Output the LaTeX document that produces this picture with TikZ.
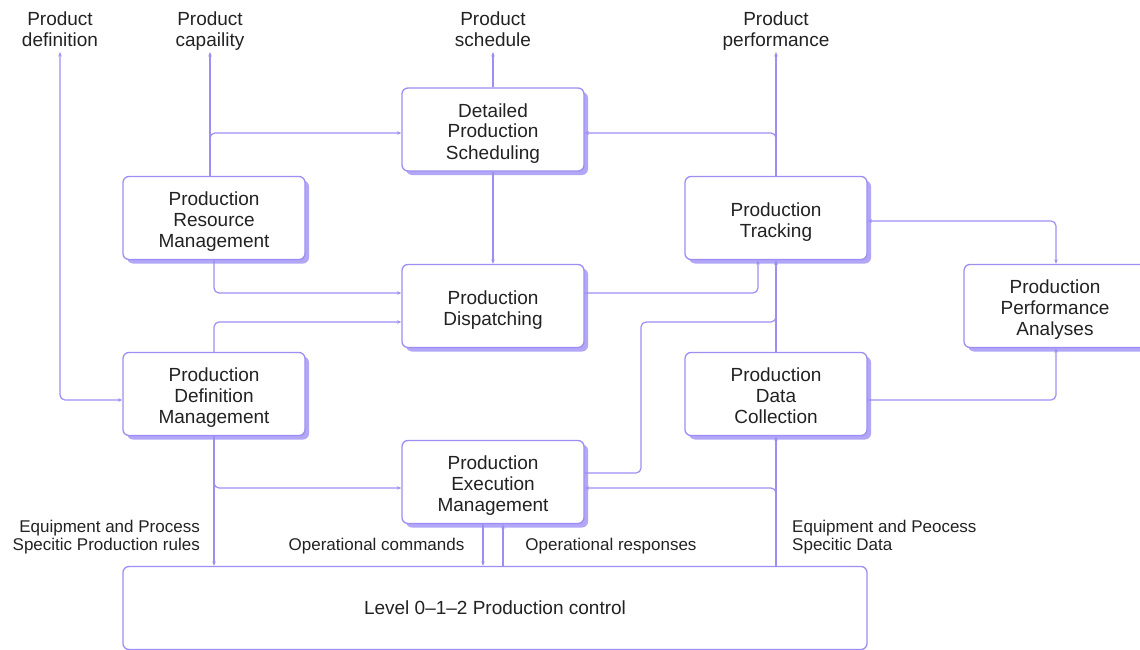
\documentclass[tikz,border=0pt]{standalone}
\usepackage{fontspec}
\setmainfont{Liberation Sans}
\usetikzlibrary{arrows.meta,shadows,calc}
\definecolor{lav}{RGB}{156,142,242}
\definecolor{lavshadow}{RGB}{178,166,247}
\definecolor{txt}{RGB}{34,34,34}
\newcommand\ts{\rule{0pt}{21pt}}
\newcommand\bs{\rule[-4pt]{0pt}{1pt}}
\tikzset{
  box/.style={rectangle, rounded corners=6pt, draw=lav, line width=1.3pt, fill=white,
    minimum width=182pt, minimum height=83pt, align=center, text=txt,
    font=\fontsize{19}{21}\selectfont,
    drop shadow={shadow xshift=4pt, shadow yshift=-4pt, fill=lavshadow, opacity=1}},
  flatbox/.style={rectangle, rounded corners=6pt, draw=lav, line width=1.3pt, fill=white,
    minimum width=744pt, minimum height=83pt, align=center, text=txt,
    font=\fontsize{19}{21}\selectfont},
  toplabel/.style={align=center, text=txt, font=\fontsize{19}{21}\selectfont, inner sep=0pt},
  smalllabel/.style={text=txt, font=\fontsize{17}{18}\selectfont, inner sep=0pt},
  conn/.style={draw=lav, line width=1.2pt, rounded corners=5pt},
  tip/.style={-{Stealth[length=4.5pt,width=3.5pt]}},
  bitip/.style={{Stealth[length=4.5pt,width=3.5pt]}-{Stealth[length=4.5pt,width=3.5pt]}}
}
\begin{document}
\begin{tikzpicture}[x=1pt,y=-1pt]
\useasboundingbox (0,0) rectangle (1140,650);

% boxes
\node[box] (DPS) at (493,129.5) {\ts Detailed\\Production\\Scheduling\bs};
\node[box] (PRM) at (214,218) {\ts Production\\Resource\\Management\bs};
\node[box] (PT) at (776,218) {\ts Production\\Tracking\bs};
\node[box] (PD) at (493,306) {\ts Production\\Dispatching\bs};
\node[box] (PPA) at (1055,306) {\ts Production\\Performance\\Analyses\bs};
\node[box] (PDM) at (214,394) {\ts Production\\Definition\\Management\bs};
\node[box] (PDC) at (776,394) {\ts Production\\Data\\Collection\bs};
\node[box] (PEM) at (493,482) {\ts Production\\Execution\\Management\bs};
\node[flatbox] (LVL) at (495,608) {Level 0–1–2 Production control};

% top labels
\node[toplabel] (Ldef) at (60,27.5) {\ts Product\\definition\bs};
\node[toplabel] (Lcap) at (210,27.5) {\ts Product\\capaility\bs};
\node[toplabel] (Lsch) at (493,27.5) {\ts Product\\schedule\bs};
\node[toplabel] (Lper) at (776,27.5) {\ts Product\\performance\bs};

\coordinate (tdef) at (60,52);
\coordinate (tcap) at (210,52);
\coordinate (tsch) at (493,52);
\coordinate (tper) at (776,52);

% bottom labels
\node[smalllabel, align=right, anchor=east] (Lrules) at (200,537) {Equipment and Process\\Specitic Production rules};
\node[smalllabel] (Lcmd) at (376.5,546) {Operational commands};
\node[smalllabel] (Lresp) at (611,546) {Operational responses};
\node[smalllabel, align=left, anchor=west] (Ldata) at (792,537) {Equipment and Peocess\\Specitic Data};

% connection points
\coordinate (PDMin) at ([yshift=-6pt]PDM.west);
\coordinate (PRMtop) at ([xshift=-4pt]PRM.north);
\coordinate (DPSinL) at ([yshift=-3.5pt]DPS.west);
\coordinate (DPSinR) at ([yshift=-3.5pt]DPS.east);
\coordinate (PDinA) at ([yshift=13pt]PD.west);
\coordinate (PDinB) at ([yshift=-16pt]PD.west);
\coordinate (PDout) at ([yshift=13pt]PD.east);
\coordinate (PTinA) at ([xshift=-18pt]PT.south);
\coordinate (PEMoutR) at ([yshift=9pt]PEM.east);
\coordinate (PEMinR) at ([yshift=-6pt]PEM.east);
\coordinate (PEMinL) at ([yshift=-6pt]PEM.west);
\coordinate (PEMcmd) at ([xshift=-10pt]PEM.south);
\coordinate (PEMresp) at ([xshift=10pt]PEM.south);
\coordinate (PTright) at ([yshift=-3pt]PT.east);
\coordinate (PDCright) at ([yshift=-6pt]PDC.east);
\coordinate (PPAtop) at ([xshift=1pt]PPA.north);
\coordinate (PPAbot) at ([xshift=1pt]PPA.south);

% connectors
\draw[conn,bitip] (tdef) -- (tdef |- PDMin) -- (PDMin);
\draw[conn,tip] (PRMtop) -- (tcap);
\draw[conn,tip] (PRMtop) |- (DPSinL);
\draw[conn,tip] (DPS.north) -- (tsch);
\draw[conn,tip] (PT.north) -- (tper);
\draw[conn,tip] (PT.north) |- (DPSinR);
\draw[conn,tip] (DPS.south) -- (PD.north);
\draw[conn,tip] (PRM.south) |- (PDinA);
\draw[conn,tip] (PDM.north) |- (PDinB);
\draw[conn,tip] (PDout) -| (PTinA);
\draw[conn,tip] (PDC.north) -- (PT.south);
\draw[conn,tip] (PEMoutR) -- (641,473) -- (641,322) -- (776,322) -- (PT.south);
\draw[conn,tip] (LVL.north -| PDC.south) -- (PDC.south);
\draw[conn,tip] (LVL.north -| PDC.south) |- (PEMinR);
\draw[conn,tip] (PDM.south) -- (LVL.north -| PDM.south);
\draw[conn,tip] (PDM.south) |- (PEMinL);
\draw[conn,tip] (PEMcmd) -- (LVL.north -| PEMcmd);
\draw[conn,tip] (LVL.north -| PEMresp) -- (PEMresp);
\draw[conn,bitip] (PTright) -| (PPAtop);
\draw[conn,tip] (PDCright) -| (PPAbot);
\end{tikzpicture}
\end{document}
